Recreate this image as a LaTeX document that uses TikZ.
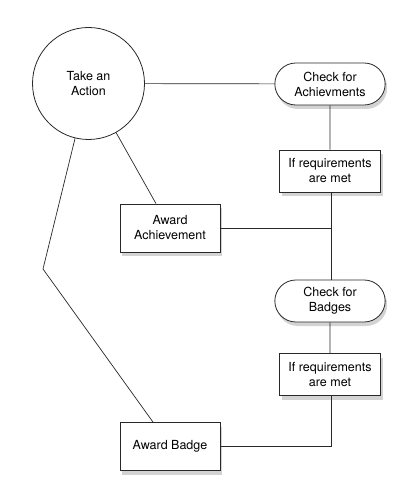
\documentclass[tikz,border=0pt]{standalone}
\usepackage{fontspec}
\setmainfont{TeX Gyre Heros}
\usepackage{tikz}
\usetikzlibrary{shadows,shapes.misc}
\definecolor{edge}{RGB}{40,40,40}
\tikzset{
  every node/.style={font=\fontsize{12.5}{15}\selectfont, align=center, text=black},
  boxshadow/.style={drop shadow={opacity=0.35, shadow xshift=2pt, shadow yshift=-4pt}},
  actioncircle/.style={circle, draw=edge, line width=0.8pt, fill=white, minimum size=112pt, inner sep=0pt},
  checkbox/.style={rounded rectangle, draw=edge, line width=0.8pt, fill=white, minimum width=117pt, minimum height=42pt, boxshadow},
  reqbox/.style={rectangle, draw=edge, line width=0.8pt, fill=white, minimum width=101pt, minimum height=42pt, boxshadow},
  awardbox/.style={rectangle, draw=edge, line width=0.8pt, fill=white, minimum width=100pt, minimum height=48pt, boxshadow},
  link/.style={draw=edge, line width=0.7pt}
}
\newcommand{\drawlink}{\draw[link]}
\begin{document}
\begin{tikzpicture}[x=1pt,y=-1pt]
\useasboundingbox (0,0) rectangle (416,502);
% nodes
\node[actioncircle] (act) at (88.5,83.5) {Take an\\Action};
\node[checkbox] (chkA) at (330,84) {Check for\\Achievments};
\node[reqbox] (reqA) at (330,171) {If requirements\\are met};
\node[awardbox] (awA) at (170,228) {Award\\Achievement};
\node[checkbox] (chkB) at (330,301) {Check for\\Badges};
\node[reqbox] (reqB) at (330,374.5) {If requirements\\are met};
\node[awardbox] (awB) at (170,446.5) {Award Badge};
\coordinate (joinA) at (331,228);
\coordinate (bend) at (43,269);
% links
\drawlink (act) -- (chkA);
\drawlink (chkA) -- (reqA);
\drawlink (reqA.south -| joinA) -- (chkB.north -| joinA);
\drawlink (awA.east) -- (joinA);
\drawlink (chkB) -- (reqB);
\drawlink (reqB.south -| joinA) |- (awB.east);
\drawlink (act) -- ([xshift=-14pt]awA.north);
\drawlink (act) -- (bend) -- ([xshift=-17pt]awB.north);
\end{tikzpicture}
\end{document}
